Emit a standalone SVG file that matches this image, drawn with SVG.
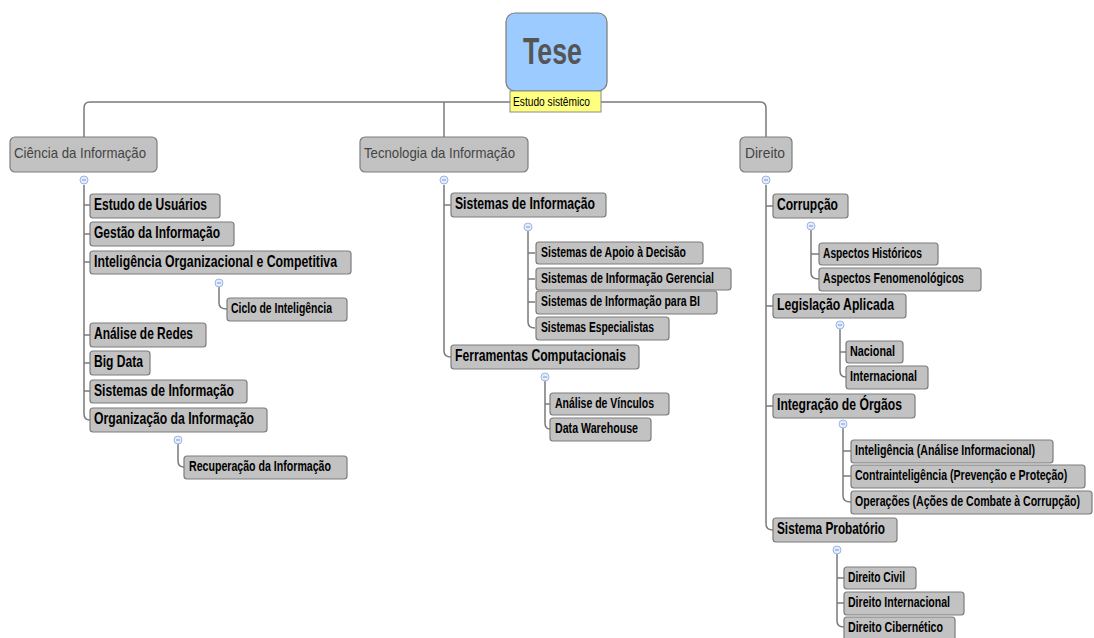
<svg xmlns="http://www.w3.org/2000/svg" width="1094" height="638" viewBox="0 0 1094 638">
  <style>
    .bg { fill: #ffffff; }
    .conn { fill: none; stroke: #7a7a7a; stroke-width: 1.5; }
    .root { fill: #9ccbff; stroke: #7a7a7a; stroke-width: 1.2; }
    .note { fill: #ffff80; stroke: #8a8a8a; stroke-width: 1; }
    .b1 { fill: #c2c2c2; stroke: #7c7c7c; stroke-width: 1.2; }
    .b2 { fill: #c2c2c2; stroke: #7c7c7c; stroke-width: 1.2; }
    .tRoot { font-family: "Liberation Sans", Arial, sans-serif; font-weight: bold; font-size: 37px; fill: #555555; }
    .tNote { font-family: "Liberation Sans", Arial, sans-serif; font-size: 12.5px; fill: #000000; }
    .t1 { font-family: "Liberation Sans", Arial, sans-serif; font-size: 14.5px; fill: #444444; }
    .t2 { font-family: "Liberation Sans", Arial, sans-serif; font-weight: bold; font-size: 16.5px; fill: #000000; }
    .t3 { font-family: "Liberation Sans", Arial, sans-serif; font-weight: bold; font-size: 14px; fill: #000000; }
    .tog { fill: #e4ecff; stroke: #9fb5e0; stroke-width: 1; }
    .togm { stroke: #7f95c8; stroke-width: 1; }
  </style>
  <defs>
    <g id="toggle">
      <circle class="tog" cx="0" cy="0" r="4"/>
      <line class="togm" x1="-2" y1="0" x2="2" y2="0"/>
    </g>
  </defs>
  <rect class="bg" x="0" y="0" width="1094" height="638"/>

  <g id="connectors">
    <!-- root to main branches -->
    <path class="conn" d="M84 137 V108 Q84 102 90 102 H760 Q766 102 766 108 V137"/>
    <path class="conn" d="M444 102 V137"/>
    <!-- Ciência da Informação -->
    <path class="conn" d="M84 185 V414 Q84 420 90 420"/>
    <path class="conn" d="M84 205 H90 M84 234 H90 M84 262 H90 M84 335 H90 M84 363 H90 M84 391 H90"/>
    <path class="conn" d="M219 287 V303 Q219 309 227 309"/>
    <path class="conn" d="M178 444 V461 Q178 467 184 467"/>
    <!-- Tecnologia da Informação -->
    <path class="conn" d="M444 185 V351 Q444 357 451 357"/>
    <path class="conn" d="M444 205 H451"/>
    <path class="conn" d="M528 231 V322 Q528 328 535 328"/>
    <path class="conn" d="M528 253 H535 M528 279 H535 M528 302 H535"/>
    <path class="conn" d="M545 381 V423 Q545 429 550 429"/>
    <path class="conn" d="M545 404 H550"/>
    <!-- Direito -->
    <path class="conn" d="M766 185 V524 Q766 530 773 530"/>
    <path class="conn" d="M766 206 H773 M766 306 H773 M766 406 H773"/>
    <path class="conn" d="M811 230 V273 Q811 279 819 279"/>
    <path class="conn" d="M811 254 H819"/>
    <path class="conn" d="M840 329 V371 Q840 377 846 377"/>
    <path class="conn" d="M840 352 H846"/>
    <path class="conn" d="M843 428 V496 Q843 502 851 502"/>
    <path class="conn" d="M843 451 H851 M843 476 H851"/>
    <path class="conn" d="M837 554 V621 Q837 627 844 627"/>
    <path class="conn" d="M837 578 H844 M837 603 H844"/>
  </g>

  <g id="toggles">
    <use href="#toggle" x="84" y="180"/>
    <use href="#toggle" x="444" y="180"/>
    <use href="#toggle" x="766" y="180"/>
    <use href="#toggle" x="219" y="283"/>
    <use href="#toggle" x="178" y="440"/>
    <use href="#toggle" x="528" y="227"/>
    <use href="#toggle" x="545" y="377"/>
    <use href="#toggle" x="811" y="226"/>
    <use href="#toggle" x="840" y="325"/>
    <use href="#toggle" x="843" y="424"/>
    <use href="#toggle" x="837" y="550"/>
  </g>

  <g id="tese">
    <rect class="root" x="506" y="13" width="101" height="78" rx="9"/>
    <text class="tRoot" x="523" y="64" textLength="59" lengthAdjust="spacingAndGlyphs">Tese</text>
    <rect class="note" x="510" y="91" width="91" height="21"/>
    <text class="tNote" x="513" y="106" textLength="77" lengthAdjust="spacingAndGlyphs">Estudo sistêmico</text>
  </g>

  <!-- main branches -->
  <g id="ciencia">
    <rect class="b1" x="10" y="137" width="147" height="35" rx="5"/>
    <text class="t1" x="14" y="158" textLength="132" lengthAdjust="spacingAndGlyphs">Ciência da Informação</text>
  </g>
  <g id="tecnologia">
    <rect class="b1" x="360" y="137" width="168" height="35" rx="5"/>
    <text class="t1" x="364" y="158" textLength="151" lengthAdjust="spacingAndGlyphs">Tecnologia da Informação</text>
  </g>
  <g id="direito">
    <rect class="b1" x="740" y="137" width="52" height="35" rx="5"/>
    <text class="t1" x="745" y="158" textLength="40" lengthAdjust="spacingAndGlyphs">Direito</text>
  </g>

  <!-- Ciência da Informação subtopics -->
  <g id="estudo-usuarios">
    <rect class="b2" x="90" y="194" width="130" height="24" rx="3"/>
    <text class="t2" x="94" y="210" textLength="113" lengthAdjust="spacingAndGlyphs">Estudo de Usuários</text>
  </g>
  <g id="gestao-informacao">
    <rect class="b2" x="90" y="222" width="144" height="24" rx="3"/>
    <text class="t2" x="94" y="238" textLength="126" lengthAdjust="spacingAndGlyphs">Gestão da Informação</text>
  </g>
  <g id="inteligencia-org">
    <rect class="b2" x="90" y="251" width="261" height="23" rx="3"/>
    <text class="t2" x="94" y="267" textLength="243" lengthAdjust="spacingAndGlyphs">Inteligência Organizacional e Competitiva</text>
  </g>
  <g id="ciclo-inteligencia">
    <rect class="b2" x="227" y="298" width="120" height="23" rx="3"/>
    <text class="t3" x="231" y="313" textLength="101" lengthAdjust="spacingAndGlyphs">Ciclo de Inteligência</text>
  </g>
  <g id="analise-redes">
    <rect class="b2" x="90" y="323" width="116" height="24" rx="3"/>
    <text class="t2" x="94" y="339" textLength="99" lengthAdjust="spacingAndGlyphs">Análise de Redes</text>
  </g>
  <g id="big-data">
    <rect class="b2" x="90" y="351" width="60" height="24" rx="3"/>
    <text class="t2" x="94" y="367" textLength="49" lengthAdjust="spacingAndGlyphs">Big Data</text>
  </g>
  <g id="sistemas-informacao-ci">
    <rect class="b2" x="90" y="380" width="157" height="23" rx="3"/>
    <text class="t2" x="94" y="396" textLength="140" lengthAdjust="spacingAndGlyphs">Sistemas de Informação</text>
  </g>
  <g id="organizacao-informacao">
    <rect class="b2" x="90" y="408" width="177" height="24" rx="3"/>
    <text class="t2" x="94" y="424" textLength="160" lengthAdjust="spacingAndGlyphs">Organização da Informação</text>
  </g>
  <g id="recuperacao-informacao">
    <rect class="b2" x="184" y="456" width="163" height="23" rx="3"/>
    <text class="t3" x="189" y="471" textLength="142" lengthAdjust="spacingAndGlyphs">Recuperação da Informação</text>
  </g>

  <!-- Tecnologia da Informação subtopics -->
  <g id="sistemas-informacao-ti">
    <rect class="b2" x="451" y="193" width="155" height="24" rx="3"/>
    <text class="t2" x="455" y="209" textLength="140" lengthAdjust="spacingAndGlyphs">Sistemas de Informação</text>
  </g>
  <g id="apoio-decisao">
    <rect class="b2" x="536" y="242" width="167" height="22" rx="3"/>
    <text class="t3" x="541" y="257" textLength="145" lengthAdjust="spacingAndGlyphs">Sistemas de Apoio à Decisão</text>
  </g>
  <g id="informacao-gerencial">
    <rect class="b2" x="536" y="268" width="195" height="22" rx="3"/>
    <text class="t3" x="541" y="283" textLength="173" lengthAdjust="spacingAndGlyphs">Sistemas de Informação Gerencial</text>
  </g>
  <g id="informacao-bi">
    <rect class="b2" x="536" y="291" width="181" height="23" rx="3"/>
    <text class="t3" x="541" y="306" textLength="159" lengthAdjust="spacingAndGlyphs">Sistemas de Informação para BI</text>
  </g>
  <g id="especialistas">
    <rect class="b2" x="536" y="317" width="133" height="23" rx="3"/>
    <text class="t3" x="541" y="332" textLength="113" lengthAdjust="spacingAndGlyphs">Sistemas Especialistas</text>
  </g>
  <g id="ferramentas">
    <rect class="b2" x="451" y="345" width="188" height="24" rx="3"/>
    <text class="t2" x="455" y="361" textLength="171" lengthAdjust="spacingAndGlyphs">Ferramentas Computacionais</text>
  </g>
  <g id="analise-vinculos">
    <rect class="b2" x="550" y="393" width="119" height="22" rx="3"/>
    <text class="t3" x="555" y="408" textLength="99" lengthAdjust="spacingAndGlyphs">Análise de Vínculos</text>
  </g>
  <g id="data-warehouse">
    <rect class="b2" x="550" y="418" width="101" height="23" rx="3"/>
    <text class="t3" x="555" y="433" textLength="83" lengthAdjust="spacingAndGlyphs">Data Warehouse</text>
  </g>

  <!-- Direito subtopics -->
  <g id="corrupcao">
    <rect class="b2" x="773" y="194" width="75" height="24" rx="3"/>
    <text class="t2" x="777" y="210" textLength="61" lengthAdjust="spacingAndGlyphs">Corrupção</text>
  </g>
  <g id="aspectos-historicos">
    <rect class="b2" x="819" y="243" width="119" height="22" rx="3"/>
    <text class="t3" x="823" y="258" textLength="99" lengthAdjust="spacingAndGlyphs">Aspectos Históricos</text>
  </g>
  <g id="aspectos-fenomenologicos">
    <rect class="b2" x="819" y="268" width="162" height="23" rx="3"/>
    <text class="t3" x="823" y="283" textLength="141" lengthAdjust="spacingAndGlyphs">Aspectos Fenomenológicos</text>
  </g>
  <g id="legislacao">
    <rect class="b2" x="773" y="294" width="133" height="24" rx="3"/>
    <text class="t2" x="777" y="310" textLength="117" lengthAdjust="spacingAndGlyphs">Legislação Aplicada</text>
  </g>
  <g id="nacional">
    <rect class="b2" x="846" y="341" width="57" height="22" rx="3"/>
    <text class="t3" x="850" y="356" textLength="45" lengthAdjust="spacingAndGlyphs">Nacional</text>
  </g>
  <g id="internacional">
    <rect class="b2" x="846" y="366" width="82" height="23" rx="3"/>
    <text class="t3" x="850" y="381" textLength="67" lengthAdjust="spacingAndGlyphs">Internacional</text>
  </g>
  <g id="integracao">
    <rect class="b2" x="773" y="394" width="142" height="24" rx="3"/>
    <text class="t2" x="777" y="410" textLength="125" lengthAdjust="spacingAndGlyphs">Integração de Órgãos</text>
  </g>
  <g id="inteligencia">
    <rect class="b2" x="851" y="440" width="202" height="23" rx="3"/>
    <text class="t3" x="855" y="455" textLength="180" lengthAdjust="spacingAndGlyphs">Inteligência (Análise Informacional)</text>
  </g>
  <g id="contrainteligencia">
    <rect class="b2" x="851" y="465" width="234" height="23" rx="3"/>
    <!-- long label: compressed horizontally so it stays inside its box -->
    <text class="t3" transform="translate(855 480) scale(0.75 1)" x="0" y="0" textLength="283" lengthAdjust="spacingAndGlyphs">Contrainteligência (Prevenção e Proteção)</text>
  </g>
  <g id="operacoes">
    <rect class="b2" x="851" y="491" width="241" height="23" rx="3"/>
    <text class="t3" transform="translate(855 506) scale(0.75 1)" x="0" y="0" textLength="300" lengthAdjust="spacingAndGlyphs">Operações (Ações de Combate à Corrupção)</text>
  </g>
  <g id="probatorio">
    <rect class="b2" x="773" y="518" width="124" height="24" rx="3"/>
    <text class="t2" x="777" y="534" textLength="108" lengthAdjust="spacingAndGlyphs">Sistema Probatório</text>
  </g>
  <g id="direito-civil">
    <rect class="b2" x="844" y="567" width="72" height="22" rx="3"/>
    <text class="t3" x="848" y="582" textLength="57" lengthAdjust="spacingAndGlyphs">Direito Civil</text>
  </g>
  <g id="direito-internacional">
    <rect class="b2" x="844" y="592" width="120" height="23" rx="3"/>
    <text class="t3" x="848" y="607" textLength="102" lengthAdjust="spacingAndGlyphs">Direito Internacional</text>
  </g>
  <g id="direito-cibernetico">
    <rect class="b2" x="844" y="617" width="111" height="23" rx="3"/>
    <text class="t3" x="848" y="632" textLength="95" lengthAdjust="spacingAndGlyphs">Direito Cibernético</text>
  </g>
</svg>
